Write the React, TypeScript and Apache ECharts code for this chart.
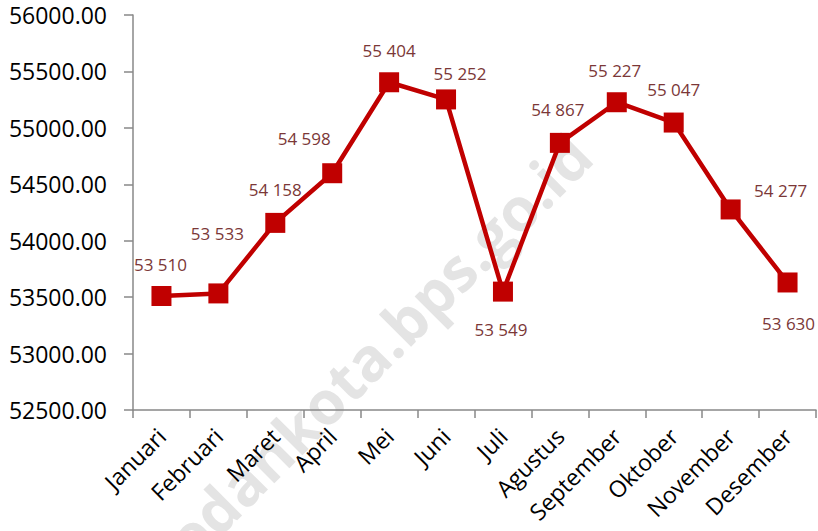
import React, { useEffect, useRef } from "react";
import * as echarts from "echarts";

const months = [
  "Januari", "Februari", "Maret", "April", "Mei", "Juni",
  "Juli", "Agustus", "September", "Oktober", "November", "Desember",
];
const values = [53510, 53533, 54158, 54598, 55404, 55252, 53549, 54867, 55227, 55047, 54277, 53630];
const yMin = 52500;
const yMax = 56000;
const yStep = 500;
const watermarkText = "medankota.bps.go.id";

// label placement offsets (style only)
const labelOffsets: [number, number][] = [
  [-1, -32], [-1, -60], [0, -33], [-28, -35], [0, -32], [14, -26],
  [-2, 38], [-2, -33], [-2, -32], [0, -33], [50, -19], [1, 41],
];

const fmtSpace = (v: number) => String(v).replace(/\B(?=(\d{3})+(?!\d))/g, " ");

export default function App() {
  const ref = useRef<HTMLDivElement>(null);
  useEffect(() => {
    if (!ref.current) return;
    const chart = echarts.init(ref.current, null, { renderer: "svg" });
    chart.setOption({
      animation: false,
      backgroundColor: "#ffffff",
      grid: { left: 133, right: 2, top: 15, bottom: 121, containLabel: false },
      graphic: [
        {
          type: "text",
          x: 358,
          y: 367,
          rotation: (45 * Math.PI) / 180,
          z: 0,
          silent: true,
          style: {
            text: watermarkText,
            fill: "#E4E4E4",
            font: "bold 60px 'Open Sans'",
            align: "center",
            verticalAlign: "middle",
          },
        },
      ],
      xAxis: {
        type: "category",
        data: months,
        boundaryGap: true,
        axisLine: { lineStyle: { color: "#888888", width: 1.5 } },
        axisTick: { show: true, length: 8, lineStyle: { color: "#888888", width: 1.5 } },
        axisLabel: {
          rotate: 45,
          margin: 22,
          color: "#000000",
          fontFamily: "Open Sans",
          fontSize: 23,
          interval: 0,
        },
      },
      yAxis: {
        type: "value",
        min: yMin,
        max: yMax,
        interval: yStep,
        axisLine: { show: true, lineStyle: { color: "#888888", width: 1.5 } },
        axisTick: { show: true, length: 9, lineStyle: { color: "#888888", width: 1.5 } },
        splitLine: { show: false },
        axisLabel: {
          margin: 26,
          color: "#000000",
          fontFamily: "Open Sans",
          fontSize: 23,
          formatter: (v: number) => v.toFixed(2),
        },
      },
      series: [
        {
          type: "line",
          z: 5,
          data: values.map((v, i) => ({ value: v, label: { offset: labelOffsets[i] } })),
          symbol: "rect",
          symbolSize: 20,
          lineStyle: { color: "#C00000", width: 4.5 },
          itemStyle: { color: "#C00000" },
          label: {
            show: true,
            position: "inside",
            color: "#7B3737",
            fontFamily: "Open Sans",
            fontSize: 17,
            formatter: (p: any) => fmtSpace(p.value),
          },
        },
      ],
    });
    return () => chart.dispose();
  }, []);
  return <div ref={ref} style={{ width: 818, height: 531, position: "absolute", left: 0, top: 0 }} />;
}
